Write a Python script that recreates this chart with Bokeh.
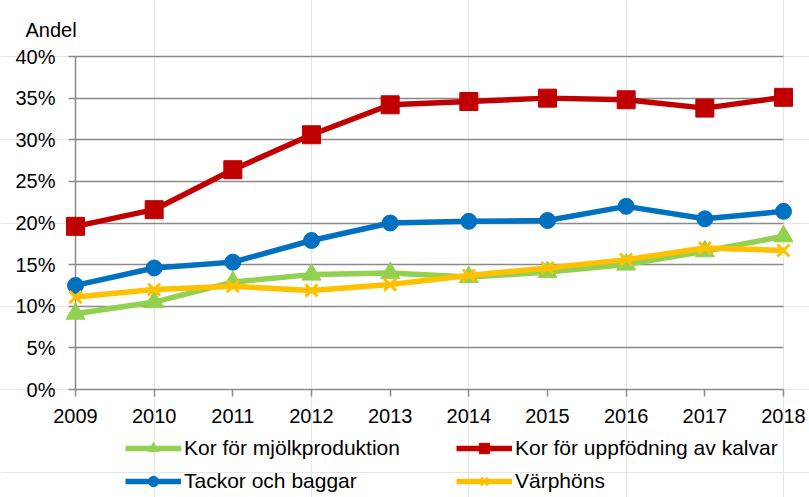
from bokeh.plotting import figure
from bokeh.models import (Range1d, FixedTicker, Grid, LabelSet, Label,
                          ColumnDataSource, Legend, LegendItem)
from bokeh.core.properties import value
from bokeh.embed import file_html
from bokeh.resources import INLINE

# ---------------- data ----------------
years = [2009, 2010, 2011, 2012, 2013, 2014, 2015, 2016, 2017, 2018]
kor_mjolk = [0.091, 0.105, 0.129, 0.138, 0.140, 0.135, 0.141, 0.150, 0.166, 0.184]
kor_kalvar = [0.196, 0.216, 0.264, 0.306, 0.342, 0.346, 0.350, 0.348, 0.338, 0.351]
tackor = [0.125, 0.146, 0.153, 0.179, 0.200, 0.202, 0.203, 0.220, 0.205, 0.214]
varphons = [0.111, 0.120, 0.124, 0.119, 0.126, 0.137, 0.146, 0.156, 0.170, 0.167]
series_names = ["Kor för mjölkproduktion", "Kor för uppfödning av kalvar",
                "Tackor och baggar", "Värphöns"]
yticks = [0.0, 0.05, 0.10, 0.15, 0.20, 0.25, 0.30, 0.35, 0.40]
ytick_labels = ["0%", "5%", "10%", "15%", "20%", "25%", "30%", "35%", "40%"]
xtick_labels = ["2009", "2010", "2011", "2012", "2013", "2014", "2015", "2016", "2017", "2018"]
y_title = "Andel"

# ---------------- geometry (frame covers the whole canvas) ----------------
W, H = 809, 497
X0_PX, X1_PX = 75, 783          # canvas x of first / last year
Y0_PX, Y1_PX = 389, 56          # canvas y (from top) of 0 and 0.4
sx = (X1_PX - X0_PX) / (years[-1] - years[0])
x_start = years[0] - X0_PX / sx
x_end = x_start + W / sx
sy = (Y0_PX - Y1_PX) / (yticks[-1] - yticks[0])
y_end = yticks[-1] + Y1_PX / sy
y_start = y_end - H / sy
TICK = 7

FONT = "Liberation Sans"
GRID = "#8a8a8a"

p = figure(width=W, height=H, min_border=0, title=None,
           x_range=Range1d(x_start, x_end), y_range=Range1d(y_start, y_end),
           x_axis_location=None, y_axis_location=None,
           toolbar_location=None, output_backend="svg")
p.outline_line_color = None
p.background_fill_color = "white"
p.border_fill_color = "white"

yticker = FixedTicker(ticks=yticks)
xticker = FixedTicker(ticks=years)
x0, x1 = years[0], years[-1]
y0, y1 = yticks[0], yticks[-1]

# horizontal grid lines
p.add_layout(Grid(dimension=1, ticker=yticker, cross_bounds=(x0, x1),
                  grid_line_color=GRID, grid_line_width=1.5))
# y axis line and its outward ticks
p.add_layout(Grid(dimension=0, ticker=FixedTicker(ticks=[x0]), cross_bounds=(y0, y1),
                  grid_line_color=GRID, grid_line_width=1.5))
p.add_layout(Grid(dimension=1, ticker=yticker, cross_bounds=(x0 - TICK / sx, x0),
                  grid_line_color=GRID, grid_line_width=1.5))
# x axis ticks (axis line is the 0% grid line)
p.add_layout(Grid(dimension=0, ticker=xticker, cross_bounds=(y0 - TICK / sy, y0),
                  grid_line_color=GRID, grid_line_width=1.5))

# tick labels
ysrc = ColumnDataSource(dict(x=[x0] * len(yticks), y=yticks, t=ytick_labels))
p.add_layout(LabelSet(x="x", y="y", text="t", source=ysrc, x_offset=-20, y_offset=-7,
                      text_align="right", text_baseline="alphabetic",
                      text_font=value(FONT), text_font_size=value("20px"),
                      text_color="black"))
xsrc = ColumnDataSource(dict(x=years, y=[y0] * len(years), t=xtick_labels))
p.add_layout(LabelSet(x="x", y="y", text="t", source=xsrc, x_offset=0, y_offset=-33,
                      text_align="center", text_baseline="alphabetic",
                      text_font=value(FONT), text_font_size=value("20px"),
                      text_color="black"))
p.add_layout(Label(x=x0, y=y1, x_offset=-50, y_offset=27, text=y_title,
                   text_align="left", text_baseline="alphabetic",
                   text_font=FONT, text_font_size="20px", text_color="black"))

# series
specs = [
    (kor_mjolk, "#92D050", "triangle", 19, 0),
    (kor_kalvar, "#C00000", "square", 18, 0),
    (tackor, "#0070C0", "circle", 16, 0),
    (varphons, "#FFC000", "x", 17, 3),
]
renderers = []
for vals, col, mk, sz, lw in specs:
    src = ColumnDataSource(dict(x=years, y=vals))
    lr = p.line("x", "y", source=src, line_color=col, line_width=5.5, line_join="round")
    if mk == "x":
        sr = p.scatter("x", "y", source=src, marker=mk, size=sz, line_color=col, line_width=lw)
    else:
        sr = p.scatter("x", "y", source=src, marker=mk, size=sz, fill_color=col, line_color=col)
    renderers.append((lr, sr))

# legends (two rows, two columns), positioned from the frame's bottom-left
leg_pos = [(125, 36), (456, 36), (125, 3), (456, 3)]
for (lr, sr), name, loc in zip(renderers, series_names, leg_pos):
    leg = Legend(items=[LegendItem(label=name, renderers=[lr, sr])], location=loc,
                 orientation="horizontal", glyph_width=56, glyph_height=26,
                 label_standoff=3, padding=0, margin=0, spacing=0,
                 border_line_color=None, background_fill_alpha=0,
                 label_text_font=FONT, label_text_font_size="21px",
                 label_text_color="black", label_height=20)
    p.add_layout(leg, "center")

open("out.html", "w").write(file_html(p, INLINE))
